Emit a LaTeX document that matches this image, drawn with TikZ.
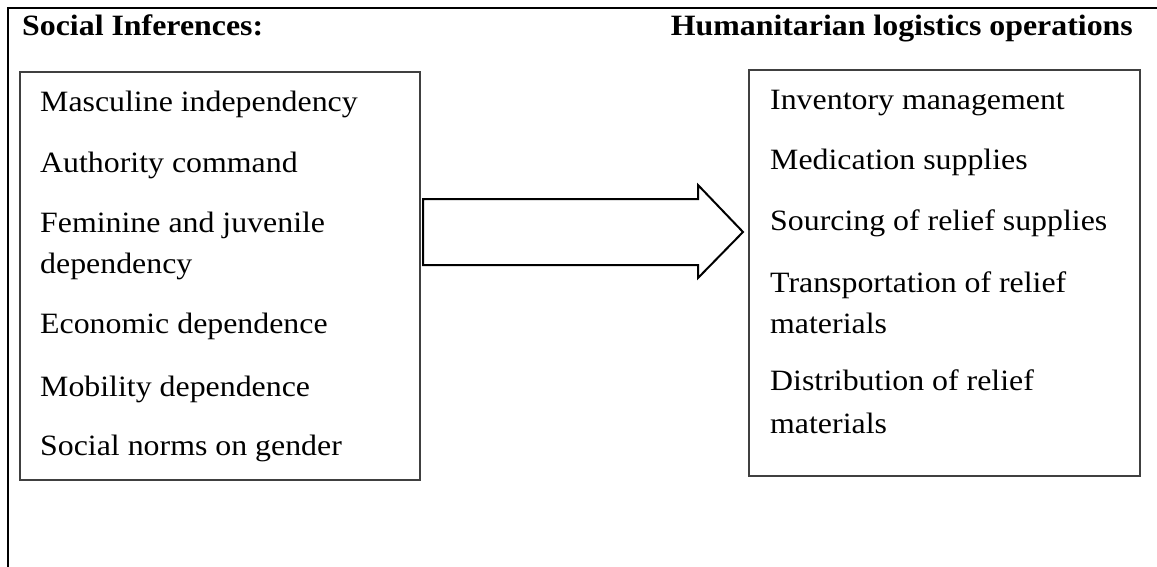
\documentclass[tikz,border=0pt]{standalone}
\usepackage{fontspec}
\setmainfont{Liberation Serif}[FakeStretch=1.08]
\begin{document}
\begin{tikzpicture}[x=1pt,y=-1pt,
  frame/.style={line width=2pt, line cap=rect},
  box/.style={draw=black!75, line width=1.2pt, inner sep=0pt, outer sep=0pt, anchor=north west},
  item/.style={anchor=base west, inner sep=0pt, font=\fontsize{29.5}{40}\selectfont},
  title/.style={inner sep=0pt, font=\fontsize{29.5}{40}\selectfont\bfseries},
  blockarrow/.style={draw=black, line width=2pt, line join=miter, fill=white}]
\useasboundingbox (0,0) rectangle (1157,567);
% outer frame
\draw[frame] (8,567) -- (8,8) -- (1157,8);
% titles
\node[title, anchor=base west] (tl) at (22,36) {Social Inferences:};
\node[title, anchor=base east] (tr) at (1133,36) {Humanitarian logistics operations};
% boxes
\node[box, minimum width=400pt, minimum height=408pt] (L) at (20,72) {};
\node[box, minimum width=391pt, minimum height=406pt] (R) at (749,70) {};
% left items
\node[item] (l1) at (40,112) {Masculine independency};
\node[item] (l2) at (40,172) {Authority command};
\node[item] (l3) at (40,233) {Feminine and juvenile};
\node[item] (l3b) at (40,273) {dependency};
\node[item] (l4) at (40,333) {Economic dependence};
\node[item] (l5) at (40,396) {Mobility dependence};
\node[item] (l6) at (40,455) {Social norms on gender};
% right items
\node[item] (r1) at (770,110) {Inventory management};
\node[item] (r2) at (770,170) {Medication supplies};
\node[item] (r3) at (770,230) {Sourcing of relief supplies};
\node[item] (r4) at (770,292) {Transportation of relief};
\node[item] (r4b) at (770,333) {materials};
\node[item] (r5) at (770,390) {Distribution of relief};
\node[item] (r5b) at (770,433) {materials};
% block arrow
\draw[blockarrow] (423,199) -- (698,199) -- (698,185) -- (743,232) -- (698,278) -- (698,265) -- (423,265) -- cycle;
\end{tikzpicture}
\end{document}
